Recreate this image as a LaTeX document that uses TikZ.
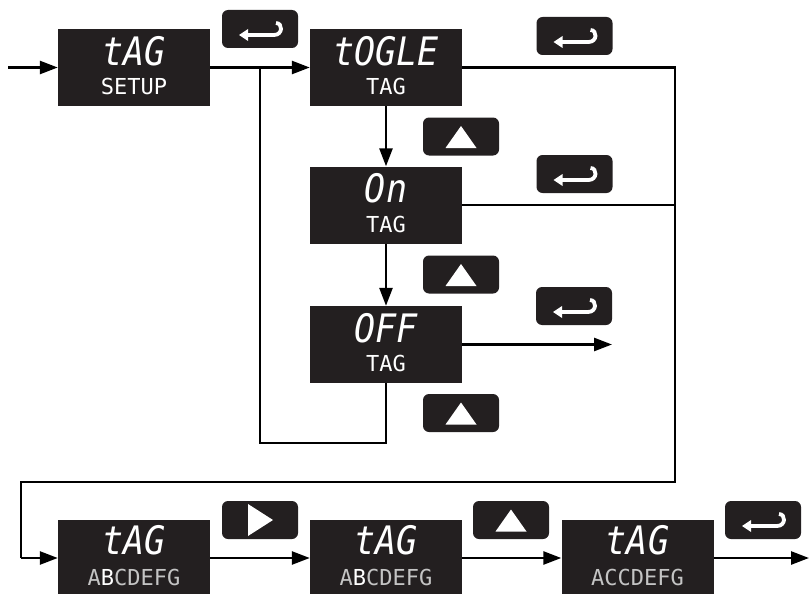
\documentclass[tikz,border=0pt]{standalone}
\usepackage{fontspec}
\usepackage{graphicx}
\setmainfont{Liberation Sans}
\newfontfamily\segfont{DejaVu Sans Mono}
\usetikzlibrary{arrows.meta}
\definecolor{boxfill}{HTML}{231F20}
\definecolor{dimtext}{HTML}{C4C4C4}
\newcommand{\tallseg}[1]{\scalebox{1}[1.12]{#1}}
\tikzset{
  disp/.style={fill=boxfill, draw=none, minimum width=152pt, minimum height=77pt, inner sep=0pt},
  toptext/.style={text=white, font=\segfont\itshape\fontsize{35}{35}\selectfont, inner sep=0pt, anchor=center},
  subtext/.style={text=white, font=\segfont\fontsize{22}{22}\selectfont, inner sep=0pt, anchor=center},
  btn/.style={fill=boxfill, draw=none, rounded corners=6pt, minimum width=76pt, minimum height=38pt, inner sep=0pt},
  conn/.style={line width=2.6pt, black},
  arr/.style={conn, -{Triangle[length=18pt,width=13pt]}},
  pics/entersym/.style={code={
    \fill[white] (-21,6) -- (-12,0) -- (-12,12) -- cycle;
    \draw[white, line width=3.8pt] (-13,6) -- (14,6) .. controls (23,6) and (23,-6) .. (16,-6);
  }},
  pics/upsym/.style={code={
    \fill[white] (0,-10.5) -- (15.5,11.5) -- (-15.5,11.5) -- cycle;
  }},
  pics/rightsym/.style={code={
    \fill[white] (-12,-16) -- (13,0) -- (-12,16) -- cycle;
  }}
}
\begin{document}
\begin{tikzpicture}[x=1pt, y=-1pt]
\useasboundingbox (0,0) rectangle (809,594);
\clip (0,0) rectangle (809,594);

% display boxes
\node[disp] (b1) at (134,67.5) {};
\node[disp] (b2) at (386,67.5) {};
\node[disp] (b3) at (386,205) {};
\node[disp] (b4) at (386,344.5) {};
\node[disp] (b5) at (134,558) {};
\node[disp] (b6) at (386,558) {};
\node[disp] (b7) at (637.5,558) {};

% texts
\node[toptext] (b1t) at ([yshift=-22pt]b1.north) {\tallseg{tAG}};
\node[subtext] (b1s) at ([yshift=-58pt]b1.north) {SETUP};
\node[toptext] (b2t) at ([yshift=-22pt]b2.north) {\tallseg{tOGLE}};
\node[subtext] (b2s) at ([yshift=-58pt]b2.north) {TAG};
\node[toptext] (b3t) at ([yshift=-22pt]b3.north) {\tallseg{On}};
\node[subtext] (b3s) at ([yshift=-58pt]b3.north) {TAG};
\node[toptext] (b4t) at ([yshift=-22pt]b4.north) {\tallseg{OFF}};
\node[subtext] (b4s) at ([yshift=-58pt]b4.north) {TAG};
\node[toptext] (b5t) at ([yshift=-21pt]b5.north) {\tallseg{tAG}};
\node[subtext] (b5s) at ([yshift=-58pt]b5.north) {\textcolor{dimtext}{A}B\textcolor{dimtext}{CDEFG}};
\node[toptext] (b6t) at ([yshift=-21pt]b6.north) {\tallseg{tAG}};
\node[subtext] (b6s) at ([yshift=-58pt]b6.north) {\textcolor{dimtext}{A}B\textcolor{dimtext}{CDEFG}};
\node[toptext] (b7t) at ([yshift=-21pt]b7.north) {\tallseg{tAG}};
\node[subtext, text=dimtext] (b7s) at ([yshift=-58pt]b7.north) {ACCDEFG};

% buttons
\node[btn] (e1) at (260,29) {};
\node[btn] (e2) at (574.5,36) {};
\node[btn] (u1) at (461,136.5) {};
\node[btn] (e3) at (574.5,174) {};
\node[btn] (u2) at (461,274.5) {};
\node[btn] (e4) at (574,306) {};
\node[btn] (u3) at (461,413) {};
\node[btn] (r5) at (260,520) {};
\node[btn] (u6) at (511,520) {};
\node[btn] (e7) at (763,520) {};

\pic at (e1.center) {entersym};
\pic at (e2.center) {entersym};
\pic at (e3.center) {entersym};
\pic at (e4.center) {entersym};
\pic at (e7.center) {entersym};
\pic at (u1.center) {upsym};
\pic at (u2.center) {upsym};
\pic at (u3.center) {upsym};
\pic at (u6.center) {upsym};
\pic at (r5.center) {rightsym};

% coordinates
\coordinate (in) at (8,67.5);
\coordinate (j1) at (260,67.5);
\coordinate (loopbot) at (260,443);
\coordinate (rtop) at (675,67.5);
\coordinate (rmid) at (675,205);
\coordinate (rbot) at (675,482);
\coordinate (lbot) at (21,482);
\coordinate (l5) at (21,558);
\coordinate (offout) at (612,344.5);
\coordinate (out) at (809,558);

% connectors
\draw[arr] (in) -- (b1.west);
\draw[arr] (b1.east) -- (b2.west);
\draw[conn] (b4.south) |- (loopbot) -- (j1);
\draw[arr] (b2.south) -- (b3.north);
\draw[arr] (b3.south) -- (b4.north);
\draw[conn] (b2.east) -- (rtop) -- (rbot) -- (lbot) -- (l5);
\draw[arr] (l5) -- (b5.west);
\draw[conn] (b3.east) -- (rmid);
\draw[arr] (b4.east) -- (offout);
\draw[arr] (b5.east) -- (b6.west);
\draw[arr] (b6.east) -- (b7.west);
\draw[arr] (b7.east) -- (out);
\end{tikzpicture}
\end{document}
